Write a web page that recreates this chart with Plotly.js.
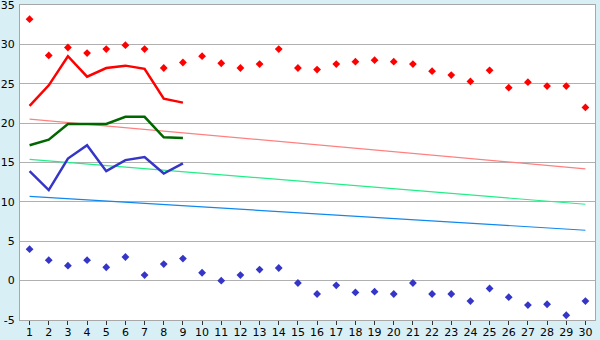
<!DOCTYPE html>
<html>
<head>
<meta charset="utf-8">
<script src="https://cdn.plot.ly/plotly-3.0.1.min.js"></script>
<style>html,body{margin:0;padding:0;background:#d9eff6;}#chart{width:600px;height:340px;}</style>
</head>
<body>
<div id="chart"></div>
<script>
const days = [1,2,3,4,5,6,7,8,9,10,11,12,13,14,15,16,17,18,19,20,21,22,23,24,25,26,27,28,29,30];
const maxTemps = [33.2,28.6,29.6,28.9,29.4,29.9,29.4,27.0,27.7,28.5,27.6,27.0,27.5,29.4,27.0,26.8,27.5,27.8,28.0,27.8,27.5,26.6,26.1,25.3,26.7,24.5,25.2,24.7,24.7,22.0];
const minTemps = [4.0,2.6,1.9,2.6,1.7,3.0,0.7,2.1,2.8,1.0,0.0,0.7,1.4,1.6,-0.3,-1.7,-0.6,-1.5,-1.4,-1.7,-0.3,-1.7,-1.7,-2.6,-1.0,-2.1,-3.1,-3.0,-4.4,-2.6];
const lineDays = [1,2,3,4,5,6,7,8,9];
const redLine = [22.2,24.8,28.5,25.9,27.0,27.3,26.9,23.1,22.6];
const greenLine = [17.2,17.9,19.9,19.9,19.9,20.8,20.8,18.2,18.1];
const blueLine = [13.9,11.5,15.5,17.2,13.9,15.3,15.7,13.6,14.9];
const trendDays = [1,30];
const trendRed = [20.5,14.2];
const trendGreen = [15.4,9.7];
const trendBlue = [10.7,6.4];
const yTicks = [-5,0,5,10,15,20,25,30,35];

const traces = [
  {x: trendDays, y: trendRed, mode:'lines', line:{color:'#ff8080', width:1.2}},
  {x: trendDays, y: trendGreen, mode:'lines', line:{color:'#22ee88', width:1.2}},
  {x: trendDays, y: trendBlue, mode:'lines', line:{color:'#1188ee', width:1.2}},
  {x: lineDays, y: redLine, mode:'lines', line:{color:'#ff0000', width:2.5}},
  {x: lineDays, y: greenLine, mode:'lines', line:{color:'#006600', width:2.5}},
  {x: lineDays, y: blueLine, mode:'lines', line:{color:'#3535c8', width:2.5}},
  {x: days, y: maxTemps, mode:'markers', marker:{symbol:'diamond', size:6, color:'#ff0000'}},
  {x: days, y: minTemps, mode:'markers', marker:{symbol:'diamond', size:6, color:'#3535c8'}}
];

const layout = {
  width: 600, height: 340,
  margin: {l:20, r:5, t:5, b:20, pad:0},
  paper_bgcolor: '#d9eff6',
  plot_bgcolor: '#ffffff',
  showlegend: false,
  font: {family: 'DejaVu Sans', size: 11, color: '#000000'},
  xaxis: {
    range: [0.5, 30.5], tickmode: 'array', tickvals: days, ticktext: days.map(String),
    showgrid: false, zeroline: false, showline: true, linecolor: '#a8a8a8', linewidth: 1, mirror: true,
    ticks: 'outside', ticklen: 4, tickcolor: '#333333', tickfont: {size: 11},
    ticklabelstandoff: -2, ticklabeloverflow: 'allow'
  },
  yaxis: {
    range: [-5, 35], tickmode: 'array', tickvals: yTicks, ticktext: yTicks.map(String),
    showgrid: true, gridcolor: '#b0b0b0', gridwidth: 1, zeroline: false,
    showline: true, linecolor: '#a8a8a8', linewidth: 1, mirror: true,
    ticks: '', ticklabelstandoff: 2, tickfont: {size: 11}, ticklabeloverflow: 'allow'
  }
};

Plotly.newPlot('chart', traces, layout, {staticPlot: true, displayModeBar: false});
</script>
</body>
</html>
